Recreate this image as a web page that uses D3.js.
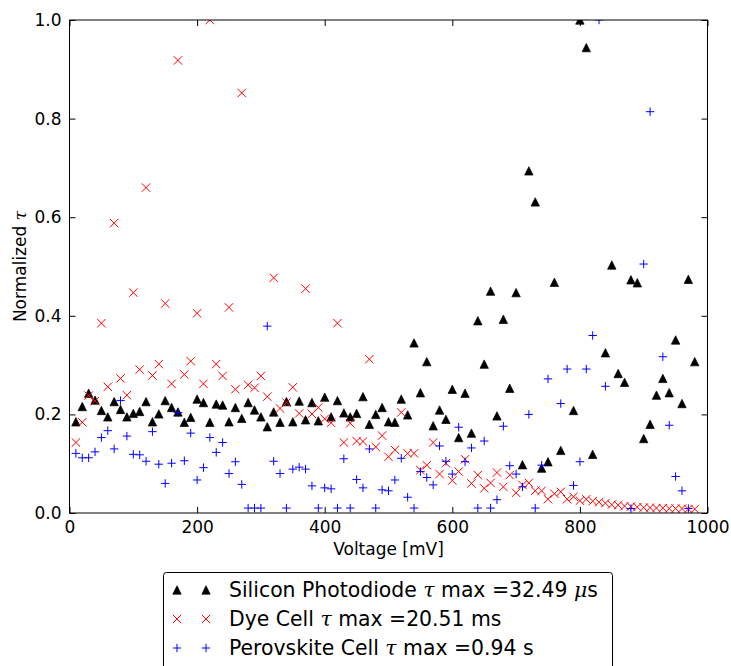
<!DOCTYPE html>
<html>
<head>
<meta charset="utf-8">
<script src="https://cdn.jsdelivr.net/npm/d3@7"></script>
<style>
  html, body { margin: 0; padding: 0; background: #fff; }
  svg { display: block; }
  text { font-family: "DejaVu Sans", sans-serif; fill: #000; }
</style>
</head>
<body>
<svg id="chart" width="731" height="666"></svg>
<script>
// ---------------- DATA ----------------
const voltages = [10,20,30,40,50,60,70,80,90,100,110,120,130,140,150,160,170,180,190,200,
  210,220,230,240,250,260,270,280,290,300,310,320,330,340,350,360,370,380,390,400,
  410,420,430,440,450,460,470,480,490,500,510,520,530,540,550,560,570,580,590,600,
  610,620,630,640,650,660,670,680,690,700,710,720,730,740,750,760,770,780,790,800,
  810,820,830,840,850,860,870,880,890,900,910,920,930,940,950,960,970,980];

const silicon = [0.185,0.216,0.243,0.229,0.208,0.195,0.226,0.210,0.195,0.202,
  0.206,0.226,0.185,0.201,0.228,0.214,0.205,0.184,0.194,0.231,
  0.224,0.184,0.221,0.219,0.185,0.214,0.192,0.224,0.209,0.195,
  0.175,0.205,0.184,0.226,0.185,0.227,0.189,0.224,0.187,0.235,
  0.195,0.228,0.203,0.195,0.202,0.236,0.180,0.200,0.214,0.185,
  0.184,0.231,0.199,0.345,0.244,0.307,0.177,0.209,0.190,0.251,
  0.153,0.243,0.162,0.390,0.302,0.450,0.197,0.393,0.253,0.447,
  0.098,0.694,0.631,0.091,0.104,0.468,0.127,null,0.208,1.0,
  0.944,0.119,null,0.325,0.503,0.283,0.265,0.473,0.467,0.151,
  0.180,0.239,0.273,0.244,0.351,0.222,0.474,0.307];

const dye = [0.143,0.184,0.238,0.227,0.385,0.256,0.588,0.273,0.239,0.447,
  0.291,0.660,0.279,0.302,0.425,0.262,0.918,0.281,0.308,0.405,
  0.262,1.0,0.302,0.278,0.417,0.251,0.852,0.260,0.254,0.278,
  0.236,0.477,0.212,0.224,0.255,0.202,0.455,0.201,0.214,0.191,
  0.183,0.385,0.143,0.182,0.146,0.145,0.312,0.134,0.157,0.114,
  0.128,0.204,0.121,0.121,0.087,0.097,0.143,0.079,0.101,0.066,
  0.084,0.109,0.060,0.077,0.050,0.061,0.082,0.053,0.077,0.041,
  0.057,0.061,0.045,0.045,0.028,0.039,0.043,0.028,0.033,0.025,
  0.028,0.024,0.022,0.020,0.017,0.016,0.014,0.013,0.012,0.011,
  0.011,0.010,0.010,0.009,0.009,0.009,0.008,0.008];

const perovskite = [0.121,0.112,0.112,0.124,0.153,0.167,0.130,0.228,0.156,0.119,
  0.118,0.105,0.165,0.099,0.060,0.101,0.204,0.106,0.162,0.067,
  0.092,0.153,0.123,0.143,0.080,0.104,0.058,0.010,0.010,0.010,
  0.379,0.105,0.080,0.010,0.089,0.093,0.089,0.055,0.010,0.051,
  0.049,0.010,0.110,0.010,0.068,0.051,0.130,0.010,0.047,0.045,
  0.067,0.111,0.032,0.010,0.084,0.072,0.057,0.136,0.105,0.079,
  0.174,0.104,0.132,0.010,0.146,0.010,0.027,0.176,0.096,0.079,
  0.053,0.200,0.010,0.097,0.272,null,0.222,0.292,0.056,0.104,
  0.292,0.360,1.0,0.257,null,null,null,0.009,null,0.505,
  0.814,null,0.317,0.178,0.074,0.045,0.009,null];

const xTicks = [0,200,400,600,800,1000];
const yTicks = [0.0,0.2,0.4,0.6,0.8,1.0];
const xLabel = "Voltage [mV]";
const legendLabels = [
  ["Silicon Photodiode ", "τ", " max =32.49 ", "μ", "s"],
  ["Dye Cell ", "τ", " max =20.51 ms"],
  ["Perovskite Cell ", "τ", " max =0.94 s"]
];

// ---------------- LAYOUT ----------------
const svg = d3.select("#chart");
const L = 69.5, R = 707.5, T = 20, B = 513;
const x = d3.scaleLinear().domain([0, 1000]).range([L, R]);
const y = d3.scaleLinear().domain([0, 1]).range([B, T]);
const tick = 6;

svg.append("defs").append("clipPath").attr("id", "clip")
  .append("rect").attr("x", L).attr("y", T).attr("width", R - L).attr("height", B - T);

const h = 4.2;
const triPath = `M0,${-h}L${h},${h}L${-h},${h}Z`;
const xPath = `M${-h},${-h}L${h},${h}M${-h},${h}L${h},${-h}`;
const plusPath = `M${-h},0L${h},0M0,${-h}L0,${h}`;

const series = [
  {vals: silicon, path: triPath, fill: "#000", stroke: "#000", sw: 0.7},
  {vals: dye, path: xPath, fill: "none", stroke: "#ff0000", sw: 1},
  {vals: perovskite, path: plusPath, fill: "none", stroke: "#0000ff", sw: 1}
];

const plot = svg.append("g").attr("clip-path", "url(#clip)");
series.forEach(s => {
  const pts = voltages.map((v, i) => ({v, val: s.vals[i]})).filter(d => d.val != null);
  plot.append("g").selectAll("path").data(pts).join("path")
    .attr("transform", d => `translate(${x(d.v)},${y(d.val)})`)
    .attr("d", s.path)
    .attr("fill", s.fill)
    .attr("stroke", s.stroke)
    .attr("stroke-width", s.sw);
});

// ---------------- AXES ----------------
function styleAxis(g) {
  g.select(".domain").remove();
  g.selectAll(".tick line").attr("stroke", "#000").attr("stroke-width", 1);
  g.selectAll(".tick text").style("font-family", "DejaVu Sans").style("font-size", "17px").attr("fill", "#000");
}
svg.append("g").attr("transform", `translate(0,${B})`)
  .call(d3.axisBottom(x).tickValues(xTicks).tickFormat(d3.format("d")).tickSizeInner(-tick).tickSizeOuter(0).tickPadding(8))
  .call(styleAxis);
svg.append("g").attr("transform", `translate(0,${T})`)
  .call(d3.axisTop(x).tickValues(xTicks).tickFormat("").tickSizeInner(-tick).tickSizeOuter(0))
  .call(styleAxis);
svg.append("g").attr("transform", `translate(${L},0)`)
  .call(d3.axisLeft(y).tickValues(yTicks).tickFormat(d3.format(".1f")).tickSizeInner(-tick).tickSizeOuter(0).tickPadding(8))
  .call(styleAxis);
svg.append("g").attr("transform", `translate(${R},0)`)
  .call(d3.axisRight(y).tickValues(yTicks).tickFormat("").tickSizeInner(-tick).tickSizeOuter(0))
  .call(styleAxis);

svg.append("rect").attr("x", L).attr("y", T).attr("width", R - L).attr("height", B - T)
  .attr("fill", "none").attr("stroke", "#000").attr("stroke-width", 1);

// axis labels
svg.append("text").attr("x", (L + R) / 2).attr("y", 555).attr("text-anchor", "middle")
  .style("font-size", "17px").text(xLabel);
const yl = svg.append("text").attr("transform", `translate(26,${(T + B) / 2}) rotate(-90)`)
  .attr("text-anchor", "middle").style("font-size", "17px");
yl.append("tspan").text("Normalized ");
yl.append("tspan").style("font-family", "DejaVu Serif").style("font-style", "italic").text("τ");

// ---------------- LEGEND ----------------
const lg = svg.append("g");
lg.append("rect").attr("x", 163.5).attr("y", 572.5).attr("width", 449).attr("height", 120)
  .attr("rx", 3).attr("fill", "#fff").attr("stroke", "#000").attr("stroke-width", 1);
const rowY = [590, 619, 648];
series.forEach((s, i) => {
  [177, 206].forEach(mx => {
    lg.append("path").attr("transform", `translate(${mx},${rowY[i]})`)
      .attr("d", s.path).attr("fill", s.fill).attr("stroke", s.stroke).attr("stroke-width", s.sw);
  });
  const t = lg.append("text").attr("x", 229).attr("y", rowY[i] + 7).style("font-size", "20.4px");
  legendLabels[i].forEach((part, j) => {
    const sp = t.append("tspan").text(part);
    if (part === "τ" || part === "μ") sp.style("font-family", "DejaVu Serif").style("font-style", "italic");
  });
});
</script>
</body>
</html>
